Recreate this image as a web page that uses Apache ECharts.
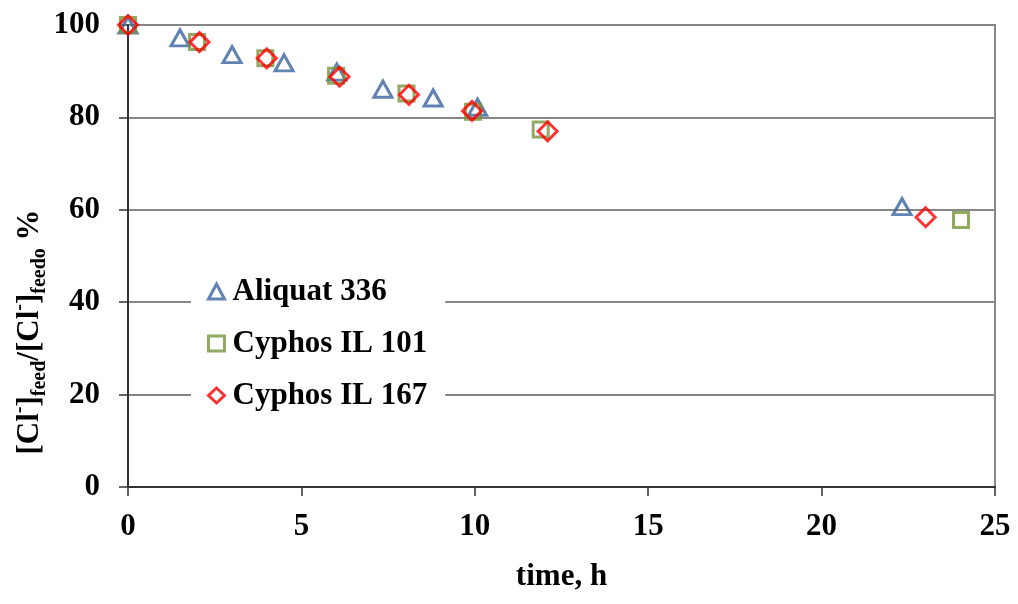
<!DOCTYPE html>
<html>
<head>
<meta charset="utf-8">
<script src="https://cdn.jsdelivr.net/npm/echarts@6/dist/echarts.min.js"></script>
<style>
  html, body { margin: 0; padding: 0; background: #fff; }
  #chart { width: 1018px; height: 604px; }
</style>
</head>
<body>
<div id="chart"></div>
<script>
const seriesNames = ['Aliquat 336', 'Cyphos IL 101', 'Cyphos IL 167'];
const aliquat336 = [[0,100],[1.5,97.2],[3.0,93.6],[4.5,91.8],[6.02,89.8],[7.35,86.1],[8.8,84.2],[10.08,82.2],[22.32,60.7]];
const cyphos101 = [[0,100],[1.99,96.3],[3.96,92.8],[6.0,89.0],[8.03,85.2],[9.95,81.2],[11.9,77.4],[24.02,57.8]];
const cyphos167 = [[0,100],[2.06,96.3],[4.0,92.8],[6.1,88.8],[8.1,84.9],[9.92,81.4],[12.1,77.0],[23.0,58.4]];
const xTicks = { min: 0, max: 25, interval: 5 };
const yTicks = { min: 0, max: 100, interval: 20 };

const FONT = "'Liberation Serif', 'Times New Roman', serif";
const chart = echarts.init(document.getElementById('chart'), null, { renderer: 'canvas' });

const colors = ['#3A64A0', '#77933C', '#FF0000'];
const symbols = ['triangle', 'rect', 'diamond'];

const option = {
  backgroundColor: '#ffffff',
  animation: false,
  grid: {
    left: 128, right: 23, top: 25, bottom: 117,
    show: true, borderColor: '#888888', borderWidth: 2, backgroundColor: 'transparent'
  },
  legend: {
    orient: 'vertical',
    left: 191, top: 271,
    padding: [5, 18, 5, 16],
    backgroundColor: '#ffffff',
    itemWidth: 16, itemHeight: 15,
    itemGap: 21,
    textStyle: { fontFamily: FONT, fontWeight: 'bold', fontSize: 31, color: '#000', lineHeight: 30, padding: [0, 0, 0, 3] },
    data: seriesNames.map((n, i) => ({
      name: n,
      icon: symbols[i],
      itemStyle: { color: 'rgba(255,255,255,0)', borderColor: colors[i], borderWidth: 3 }
    }))
  },
  xAxis: {
    type: 'value', min: xTicks.min, max: xTicks.max, interval: xTicks.interval,
    name: 'time, h', nameLocation: 'middle', nameGap: 74,
    nameTextStyle: { fontFamily: FONT, fontWeight: 'bold', fontSize: 31, color: '#000' },
    axisLine: { show: true, onZero: false, lineStyle: { color: '#333333', width: 2 } },
    axisTick: { show: true, inside: false, length: 9, lineStyle: { color: '#333333', width: 1.5 } },
    axisLabel: { fontFamily: FONT, fontWeight: 'bold', fontSize: 31, color: '#000', margin: 24 },
    splitLine: { show: false }
  },
  yAxis: {
    type: 'value', min: yTicks.min, max: yTicks.max, interval: yTicks.interval,
    axisLine: { show: true, onZero: false, lineStyle: { color: '#333333', width: 2 } },
    axisTick: { show: true, inside: false, length: 9, lineStyle: { color: '#333333', width: 1.5 } },
    axisLabel: { fontFamily: FONT, fontWeight: 'bold', fontSize: 31, color: '#000', margin: 28 },
    splitLine: { show: true, lineStyle: { color: '#868686', width: 2 } }
  },
  graphic: [{
    type: 'text',
    x: 30, y: 332,
    rotation: Math.PI / 2,
    style: {
      text: '{b|[Cl}{sup|-}{b|]}{sub|feed}{b|/[Cl}{sup|-}{b|]}{sub|feedo}{b| %}',
      align: 'center', verticalAlign: 'middle',
      fill: '#000',
      rich: {
        b: { fontFamily: FONT, fontWeight: 'bold', fontSize: 31, lineHeight: 40, fill: '#000' },
        sub: { fontFamily: FONT, fontWeight: 'bold', fontSize: 20, lineHeight: 20, verticalAlign: 'bottom', fill: '#000' },
        sup: { fontFamily: FONT, fontWeight: 'bold', fontSize: 20, lineHeight: 20, verticalAlign: 'top', fill: '#000' }
      }
    }
  }],
  series: [
    {
      name: seriesNames[0], type: 'scatter', data: aliquat336, clip: false,
      symbol: symbols[0], symbolSize: [18, 16],
      itemStyle: { color: 'rgba(255,255,255,0)', borderColor: colors[0], borderWidth: 3 },
      z: 2
    },
    {
      name: seriesNames[1], type: 'scatter', data: cyphos101, clip: false,
      symbol: symbols[1], symbolSize: 15,
      itemStyle: { color: 'rgba(255,255,255,0)', borderColor: colors[1], borderWidth: 3 },
      z: 3
    },
    {
      name: seriesNames[2], type: 'scatter', data: cyphos167, clip: false,
      symbol: symbols[2], symbolSize: 19,
      itemStyle: { color: 'rgba(255,255,255,0)', borderColor: colors[2], borderWidth: 3 },
      z: 4
    }
  ]
};
chart.setOption(option);
</script>
</body>
</html>
